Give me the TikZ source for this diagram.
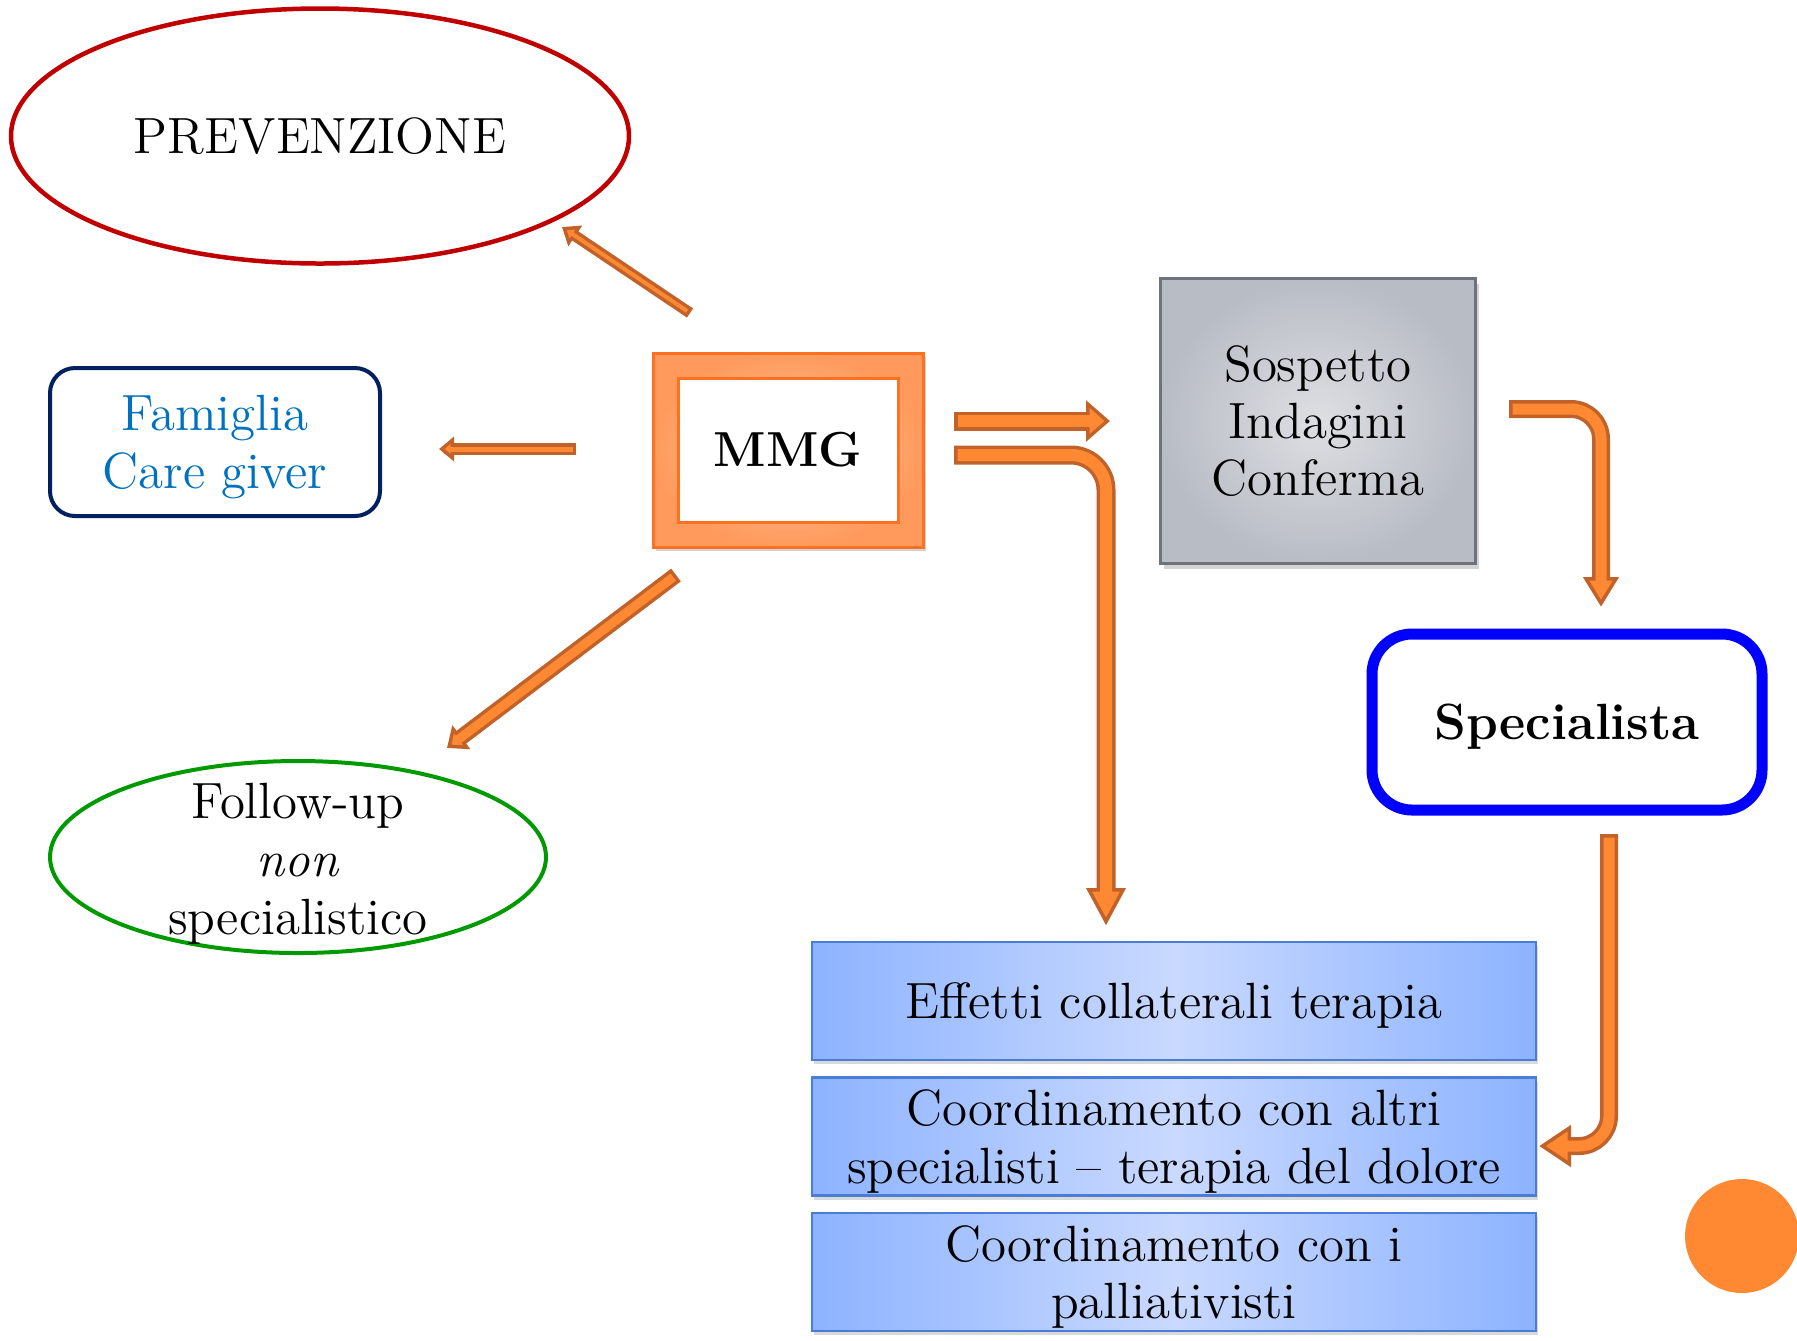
\documentclass[tikz,border=0pt]{standalone}
\usepackage{fontspec}
\usetikzlibrary{positioning,shapes.geometric,shadows,arrows.meta}

\definecolor{arrowfill}{HTML}{FF8833}
\definecolor{arrowedge}{HTML}{C0622A}
\definecolor{mmgedge}{HTML}{FF7020}
\definecolor{mmgouter}{HTML}{FF9A5C}
\definecolor{mmginner}{HTML}{FFC8A4}
\definecolor{prevred}{HTML}{C00000}
\definecolor{famnavy}{HTML}{002060}
\definecolor{famblue}{HTML}{0070C0}
\definecolor{followgreen}{HTML}{009A00}
\definecolor{sospin}{HTML}{DDDFE3}
\definecolor{sospout}{HTML}{B8BCC4}
\definecolor{sospedge}{HTML}{6E727A}
\definecolor{taskside}{HTML}{8DB3FF}
\definecolor{taskmid}{HTML}{C9D9FF}
\definecolor{taskedge}{HTML}{4A7DD8}
\definecolor{specblue}{HTML}{0000FF}

% block arrow: [options]{shaft}{head width}{head length}{path}, sizes in mm
\newcommand{\blockarrow}[5][]{%
  \pgfmathsetmacro{\bahalf}{#3/2}%
  \pgfmathsetmacro{\baback}{0.35/sin(atan(\bahalf/#4))}%
  \pgfmathsetmacro{\balen}{#4-0.35-\baback}%
  \pgfmathsetmacro{\bawid}{2*\balen*\bahalf/#4}%
  \pgfmathsetmacro{\bashaft}{#2-0.7}%
  \draw[#1, line width=#2mm, arrowedge, -{Triangle[width=#3mm, length=#4mm]}] #5;%
  \draw[#1, line width=\bashaft mm, arrowfill, shorten <=0.35mm, shorten >=\baback mm,
    -{Triangle[width=\bawid mm, length=\balen mm]}] #5;%
}

\begin{document}
\begin{tikzpicture}[
    x=0.1mm, y=-0.1mm,
    txt/.style={font=\fontsize{14.5}{16.5}\selectfont, align=center},
    prevstyle/.style={ellipse, draw=prevred, line width=0.45mm, minimum width=61.8mm,
      minimum height=25.5mm, inner sep=0pt, txt},
    followstyle/.style={ellipse, draw=followgreen, line width=0.4mm, minimum width=49.6mm,
      minimum height=19.2mm, inner sep=0pt},
    famstyle/.style={rectangle, rounded corners=2.5mm, draw=famnavy, line width=0.4mm,
      minimum width=33mm, minimum height=14.8mm, txt, text=famblue, text depth=0pt},
    mmgframe/.style={rectangle, draw=mmgedge, line width=0.3mm, minimum width=27mm,
      minimum height=19.4mm, inner color=mmginner, outer color=mmgouter,
      drop shadow={shadow xshift=0.3mm, shadow yshift=-0.4mm, opacity=0.35}},
    mmgcore/.style={rectangle, draw=mmgedge, line width=0.3mm, fill=white, minimum width=22mm,
      minimum height=14.4mm, font=\fontsize{14}{16}\selectfont\bfseries},
    sospstyle/.style={rectangle, draw=sospedge, line width=0.3mm, minimum width=31.5mm,
      minimum height=28.5mm, inner color=sospin, outer color=sospout,
      font=\fontsize{14.5}{16.3}\selectfont, align=center,
      drop shadow={shadow xshift=0.3mm, shadow yshift=-0.5mm, opacity=0.35}},
    specstyle/.style={rectangle, rounded corners=4mm, draw=specblue, line width=1.1mm,
      minimum width=39mm, minimum height=17.6mm, text depth=0pt,
      font=\fontsize{14.5}{16.5}\selectfont\bfseries},
    taskbox/.style={rectangle, draw=taskedge, line width=0.25mm, minimum width=72.4mm,
      minimum height=11.8mm, inner ysep=0pt, text depth=0pt,
      left color=taskside, right color=taskside, middle color=taskmid,
      font=\fontsize{14.5}{16.3}\selectfont, align=center,
      drop shadow={shadow xshift=0.2mm, shadow yshift=-0.4mm, opacity=0.3}}
]
\useasboundingbox (0,0) rectangle (1797,1340);

\node[prevstyle] (prev) at (320,136) {PREVENZIONE};
\node[famstyle] (fam) at (215,442) {Famiglia\\Care giver};
\node[followstyle] (follow) at (298,857) {};
\node[txt] (followtext) at (298,864) {Follow-up\\\textit{non}\\specialistico};

\node[mmgframe] (mmg) at (788,450) {};
\node[mmgcore] (mmgcore) at (mmg) {MMG};

\node[sospstyle] (sosp) at (1318,421) {Sospetto\\Indagini\\Conferma};
\node[specstyle] (spec) at (1567,722) {Specialista};

\node[taskbox] (task1) at (1174,1001) {Effetti collaterali terapia};
\node[taskbox, below=1.5mm of task1] (task2) {Coordinamento con altri\\specialisti -- terapia del dolore};
\node[taskbox, below=1.5mm of task2] (task3) {Coordinamento con i\\palliativisti};

\node[circle, fill=arrowfill, minimum size=11.4mm, inner sep=0pt] (dot) at (1742,1236) {};

% arrow ends
\coordinate (prevfrom) at (690,313);
\coordinate (prevto) at (562,227);
\coordinate (famfrom) at (576,449);
\coordinate (famto) at (439,449);
\coordinate (followfrom) at (676,575);
\coordinate (followto) at (447,748);
\coordinate (sospfrom) at (954,421);
\coordinate (sospto) at (1110,421);
\coordinate (taskfrom) at (954,455);
\coordinate (taskbend) at (1106,455);
\coordinate (taskto) at (1106,926);
\coordinate (specfrom) at (1509,409);
\coordinate (specbend) at (1601,409);
\coordinate (specto) at (1601,607);
\coordinate (coordfrom) at (1609,834);
\coordinate (coordbend) at (1609,1146);
\coordinate (coordto) at (1539,1146);

\blockarrow{1.1}{2.4}{1.6}{(prevfrom) -- (prevto)}
\blockarrow{1.2}{2.4}{1.5}{(famfrom) -- (famto)}
\blockarrow{1.6}{2.9}{1.8}{(followfrom) -- (followto)}
\blockarrow{1.9}{4.0}{2.4}{(sospfrom) -- (sospto)}
\blockarrow[rounded corners=3.5mm]{1.9}{3.7}{3.8}{(taskfrom) -- (taskbend) -- (taskto)}
\blockarrow[rounded corners=3mm]{1.8}{3.4}{3.0}{(specfrom) -- (specbend) -- (specto)}
\blockarrow[rounded corners=3mm]{1.8}{4.0}{3.2}{(coordfrom) -- (coordbend) -- (coordto)}

\end{tikzpicture}
\end{document}
